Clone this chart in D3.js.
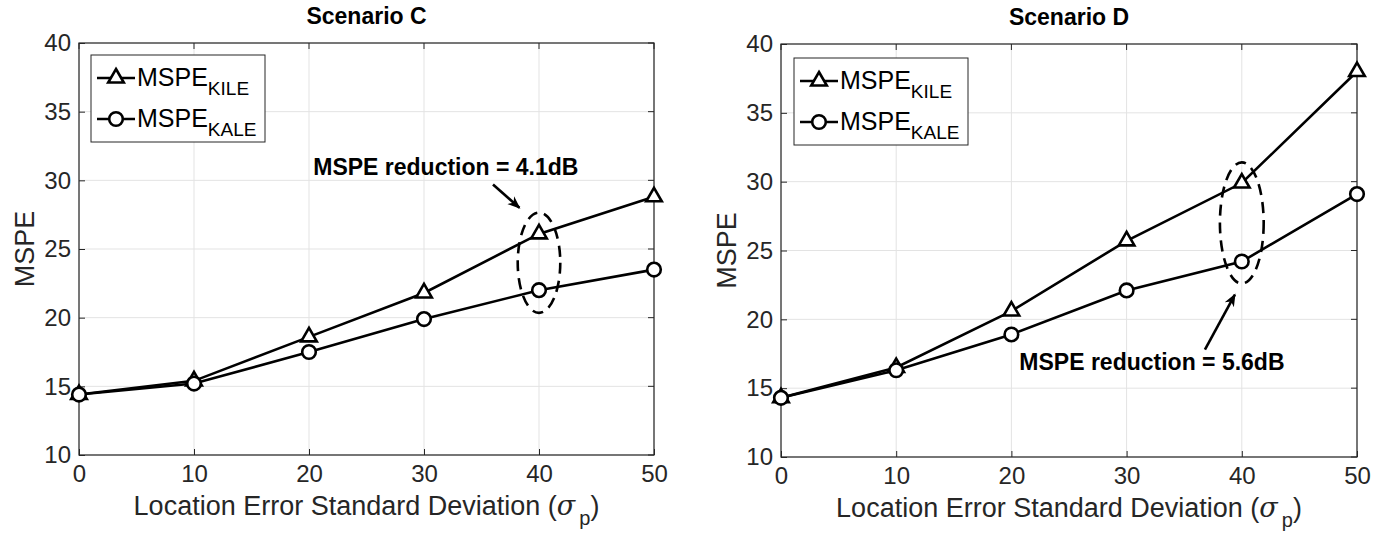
<!DOCTYPE html>
<html>

<head>
    <title>MSPE vs Location Error</title>
    <script src="https://d3js.org/d3.v7.min.js"></script>
    <style>
        body {
            margin: 0;
            background: white;
        }

        text {
            font-family: Arial, "Liberation Sans", sans-serif;
        }

        .tick text {
            fill: #262626;
        }
    </style>
</head>

<body>
    <svg id="fig" width="1383" height="533"></svg>

    <script>
        // data
        var sigmaP = [0, 10, 20, 30, 40, 50];
        var kileC = [14.4, 15.4, 18.6, 21.8, 26.1, 28.8];
        var kaleC = [14.4, 15.2, 17.5, 19.9, 22.0, 23.5];
        var kileD = [14.3, 16.5, 20.6, 25.7, 29.9, 38.0];
        var kaleD = [14.3, 16.3, 18.9, 22.1, 24.2, 29.1];
        var xTicks = [0, 10, 20, 30, 40, 50];
        var yTicks = [10, 15, 20, 25, 30, 35, 40];
        var titles = ["Scenario C", "Scenario D"];
        var notes = ["MSPE reduction = 4.1dB", "MSPE reduction = 5.6dB"];

        var svg = d3.select("#fig");

        var panels = [
            {
                title: titles[0], kile: kileC, kale: kaleC, note: notes[0],
                left: 79, right: 654, top: 43, bottom: 455,
                ell: { cx: 40, cy: 24, rx: 1.85, ry: 3.65 },
                noteAt: [31.9, 31.0], arrow: [[36.0, 29.7], [38.3, 28.0]],
                legend: { x: 91, y: 55, w: 174, h: 87 }
            },
            {
                title: titles[1], kile: kileD, kale: kaleD, note: notes[1],
                left: 781, right: 1357, top: 44, bottom: 457,
                ell: { cx: 40, cy: 27.0, rx: 1.9, ry: 4.4 },
                noteAt: [32.2, 16.9], arrow: [[36.8, 17.8], [39.4, 21.8]],
                legend: { x: 794, y: 58, w: 174, h: 87 }
            }
        ];

        // arrow head
        svg.append("defs").append("marker")
            .attr("id", "head")
            .attr("viewBox", "0 0 10 10")
            .attr("refX", 9).attr("refY", 5)
            .attr("markerWidth", 5).attr("markerHeight", 5)
            .attr("orient", "auto")
            .append("path")
            .attr("d", "M0,1 L10,5 L0,9 L3,5 Z")
            .attr("fill", "black");

        panels.forEach(function (p) {
            var x = d3.scaleLinear().domain([0, 50]).range([p.left, p.right]);
            var y = d3.scaleLinear().domain([10, 40]).range([p.bottom, p.top]);
            var g = svg.append("g");
            var w = p.right - p.left, h = p.bottom - p.top;

            // grid
            g.append("g").selectAll("line").data(xTicks).enter().append("line")
                .attr("x1", d => x(d)).attr("x2", d => x(d))
                .attr("y1", p.top).attr("y2", p.bottom)
                .attr("stroke", "#e3e3e3").attr("stroke-width", 1);
            g.append("g").selectAll("line").data(yTicks).enter().append("line")
                .attr("y1", d => y(d)).attr("y2", d => y(d))
                .attr("x1", p.left).attr("x2", p.right)
                .attr("stroke", "#e3e3e3").attr("stroke-width", 1);

            // axes
            var ax = g.append("g")
                .attr("transform", "translate(0," + p.bottom + ")")
                .call(d3.axisBottom(x).tickValues(xTicks).tickSize(-6).tickPadding(10));
            var ay = g.append("g")
                .attr("transform", "translate(" + p.left + ",0)")
                .call(d3.axisLeft(y).tickValues(yTicks).tickSize(-6).tickPadding(8));
            [ax, ay].forEach(function (a) {
                a.select(".domain").remove();
                a.selectAll("line").attr("stroke", "#262626");
                a.selectAll("text").attr("font-size", 24).attr("font-family", "Arial, 'Liberation Sans', sans-serif");
            });
            // opposite ticks (box)
            g.append("g").selectAll("line").data(xTicks).enter().append("line")
                .attr("x1", d => x(d)).attr("x2", d => x(d))
                .attr("y1", p.top).attr("y2", p.top + 6).attr("stroke", "#262626");
            g.append("g").selectAll("line").data(yTicks).enter().append("line")
                .attr("y1", d => y(d)).attr("y2", d => y(d))
                .attr("x1", p.right).attr("x2", p.right - 6).attr("stroke", "#262626");
            g.append("rect")
                .attr("x", p.left).attr("y", p.top).attr("width", w).attr("height", h)
                .attr("fill", "none").attr("stroke", "#262626").attr("stroke-width", 1.2);

            // title and labels
            g.append("text")
                .attr("x", (p.left + p.right) / 2).attr("y", p.top - 19)
                .attr("text-anchor", "middle").attr("font-size", 23).attr("font-weight", "bold")
                .attr("fill", "black")
                .text(p.title);
            g.append("text")
                .attr("transform", "translate(" + (p.left - 45) + "," + ((p.top + p.bottom) / 2) + ") rotate(-90)")
                .attr("text-anchor", "middle").attr("font-size", 27).attr("fill", "#262626")
                .text("MSPE");
            var xl = g.append("text")
                .attr("x", (p.left + p.right) / 2).attr("y", p.bottom + 60)
                .attr("text-anchor", "middle").attr("font-size", 27).attr("fill", "#262626");
            xl.append("tspan").text("Location Error Standard Deviation (");
            xl.append("tspan").attr("font-style", "italic").attr("font-family", "'DejaVu Serif', serif").text("\u03c3");
            xl.append("tspan").attr("font-size", 20).attr("dx", 4).attr("dy", 10).text("p");
            xl.append("tspan").attr("dy", -10).text(")");

            // series
            var line = d3.line().x((d, i) => x(sigmaP[i])).y(d => y(d));
            [p.kile, p.kale].forEach(function (s) {
                g.append("path").datum(s)
                    .attr("d", line)
                    .attr("fill", "none").attr("stroke", "black").attr("stroke-width", 2.6);
            });
            var tri = d3.symbol().type(d3.symbolTriangle).size(105);
            g.append("g").selectAll("path").data(p.kile).enter().append("path")
                .attr("d", tri)
                .attr("transform", (d, i) => "translate(" + x(sigmaP[i]) + "," + y(d) + ")")
                .attr("fill", "white").attr("stroke", "black").attr("stroke-width", 2.6);
            g.append("g").selectAll("circle").data(p.kale).enter().append("circle")
                .attr("cx", (d, i) => x(sigmaP[i])).attr("cy", d => y(d)).attr("r", 6.8)
                .attr("fill", "white").attr("stroke", "black").attr("stroke-width", 2.6);

            // annotation
            g.append("ellipse")
                .attr("cx", x(p.ell.cx)).attr("cy", y(p.ell.cy))
                .attr("rx", x(p.ell.rx) - x(0)).attr("ry", y(10) - y(10 + p.ell.ry))
                .attr("fill", "none").attr("stroke", "black").attr("stroke-width", 2.6)
                .attr("stroke-dasharray", "11,7");
            g.append("line")
                .attr("x1", x(p.arrow[0][0])).attr("y1", y(p.arrow[0][1]))
                .attr("x2", x(p.arrow[1][0])).attr("y2", y(p.arrow[1][1]))
                .attr("stroke", "black").attr("stroke-width", 2.6)
                .attr("marker-end", "url(#head)");
            g.append("text")
                .attr("x", x(p.noteAt[0])).attr("y", y(p.noteAt[1]))
                .attr("dy", "0.35em")
                .attr("text-anchor", "middle").attr("font-size", 23).attr("font-weight", "bold")
                .attr("fill", "black")
                .text(p.note);

            // legend
            var L = p.legend;
            var lg = g.append("g").attr("transform", "translate(" + L.x + "," + L.y + ")");
            lg.append("rect").attr("width", L.w).attr("height", L.h)
                .attr("fill", "white").attr("stroke", "#262626").attr("stroke-width", 1);
            var entries = [{ sub: "KILE", sym: "tri" }, { sub: "KALE", sym: "circ" }];
            entries.forEach(function (e, i) {
                var yy = 23 + i * 41;
                lg.append("line").attr("x1", 6).attr("x2", 44).attr("y1", yy).attr("y2", yy)
                    .attr("stroke", "black").attr("stroke-width", 2.6);
                if (e.sym === "tri") {
                    lg.append("path").attr("d", tri).attr("transform", "translate(25," + yy + ")")
                        .attr("fill", "white").attr("stroke", "black").attr("stroke-width", 2.6);
                } else {
                    lg.append("circle").attr("cx", 25).attr("cy", yy).attr("r", 6.8)
                        .attr("fill", "white").attr("stroke", "black").attr("stroke-width", 2.6);
                }
                var t = lg.append("text").attr("x", 46).attr("y", yy + 8)
                    .attr("font-size", 25).attr("fill", "black");
                t.append("tspan").text("MSPE");
                t.append("tspan").attr("font-size", 19).attr("dy", 9).text(e.sub);
            });
        });
    </script>
</body>

</html>
